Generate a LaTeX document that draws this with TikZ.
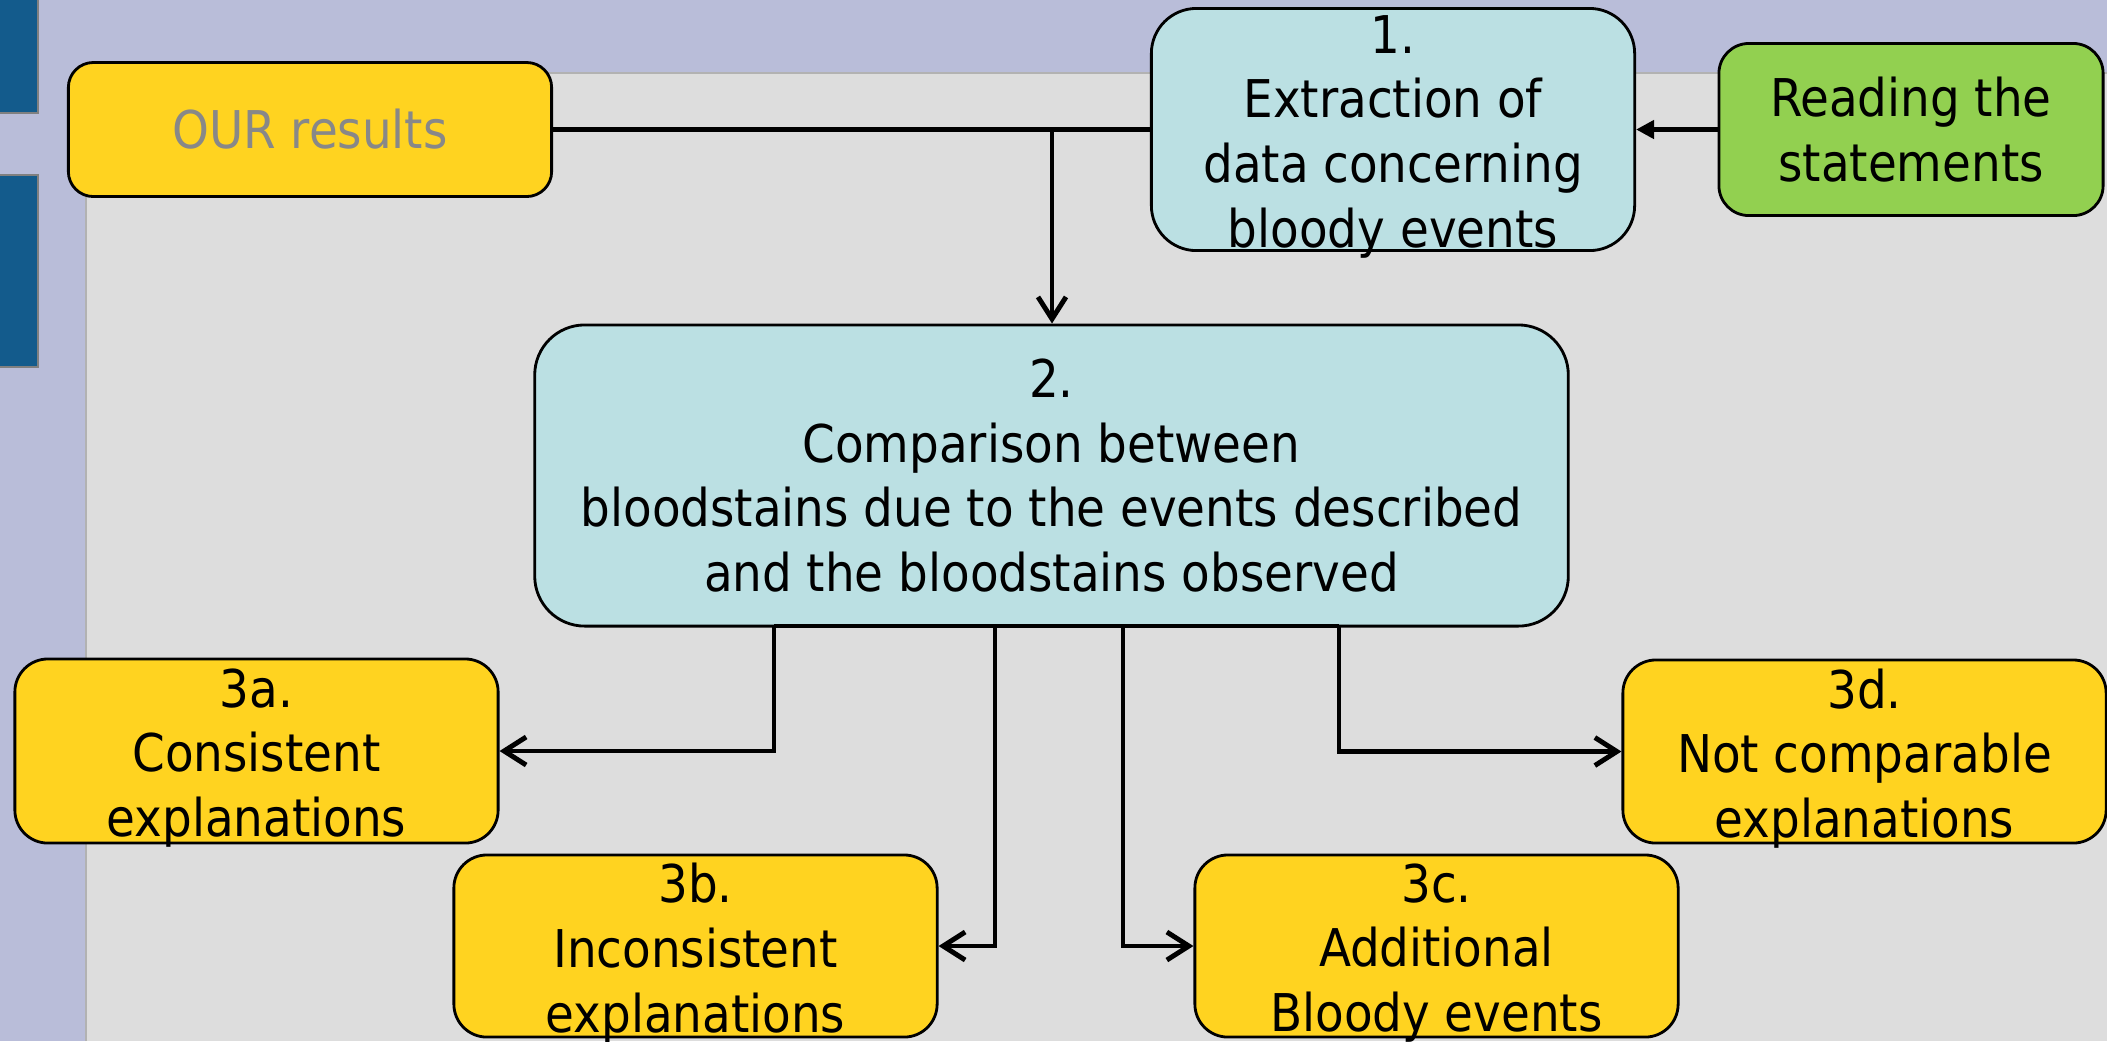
\documentclass[tikz,border=0pt]{standalone}
\usepackage{fontspec}
\setmainfont{DejaVu Sans Condensed}
\usepackage{xcolor}
\usetikzlibrary{arrows.meta}

\definecolor{slidebg}{HTML}{B9BDD9}
\definecolor{slidegray}{HTML}{DDDDDD}
\definecolor{barblue}{HTML}{135B8C}
\definecolor{boxyellow}{HTML}{FFD320}
\definecolor{boxcyan}{HTML}{BBE0E3}
\definecolor{boxgreen}{HTML}{92D050}
\definecolor{textgray}{HTML}{888888}

\tikzset{
  box/.style={draw=black, line width=0.8pt, inner sep=0pt, minimum width=4.83cm},
  txt/.style={align=center, inner sep=0pt, font=\fontsize{14.8}{18.4}\selectfont},
  txtlow/.style={txt, yshift=-2pt},
  conn/.style={line width=1.4pt},
  arr/.style={conn, -{Straight Barb[length=0.22cm,width=0.28cm,line width=1.4pt]}}
}

\begin{document}
\begin{tikzpicture}[x=0.01cm, y=-0.01cm]
  \useasboundingbox (0,0) rectangle (2107,1041);
  % slide background
  \fill[slidebg] (0,0) rectangle (2107,1041);
  \fill[slidegray] (86,73) rectangle (2107,1041);
  \draw[gray!60, line width=0.4pt] (86,1041) -- (86,73) -- (2107,73);
  \filldraw[barblue, draw=gray, line width=0.5pt] (-2,-2) rectangle (38,113);
  \filldraw[barblue, draw=gray, line width=0.5pt] (-2,175) rectangle (38,367);

  % boxes
  \node[box, fill=boxyellow, rounded corners=0.25cm, minimum height=1.34cm,
    label={[txt, text=textgray]center:OUR results}] (our) at (310,129.5) {};
  \node[box, fill=boxcyan, rounded corners=0.45cm, minimum height=2.42cm,
    label={[txtlow]center:1.\\Extraction of\\data concerning\\bloody events}] (extr) at (1393,129.5) {};
  \node[box, fill=boxgreen, rounded corners=0.3cm, minimum width=3.84cm, minimum height=1.72cm,
    label={[txt]center:Reading the\\statements}] (read) at (1911,129.5) {};
  \node[box, fill=boxcyan, rounded corners=0.5cm, minimum width=10.33cm, minimum height=3.01cm,
    label={[txt]center:2.\\Comparison between\\bloodstains due to the events described\\and the bloodstains observed}] (cmp) at (1051.5,475.5) {};
  \node[box, fill=boxyellow, rounded corners=0.33cm, minimum height=1.84cm,
    label={[txtlow]center:3a.\\Consistent\\explanations}] (a3) at (256.5,751) {};
  \node[box, fill=boxyellow, rounded corners=0.33cm, minimum height=1.82cm,
    label={[txtlow]center:3b.\\Inconsistent\\explanations}] (b3) at (695.5,946) {};
  \node[box, fill=boxyellow, rounded corners=0.33cm, minimum height=1.82cm,
    label={[txtlow]center:3c.\\Additional\\Bloody events}] (c3) at (1436.5,946) {};
  \node[box, fill=boxyellow, rounded corners=0.33cm, minimum height=1.83cm,
    label={[txtlow]center:3d.\\Not comparable\\explanations}] (d3) at (1864.5,751.5) {};

  % connectors at the top
  \coordinate (j1) at (1052,129.5);
  \draw[conn] (our.east) -- (extr.west);
  \draw[arr] (j1) -- (cmp.north -| j1);
  \draw[conn, -{Triangle[length=0.18cm,width=0.18cm]}] (read.west) -- (extr.east);

  % connectors below step 2
  \coordinate (sa) at (774,626);
  \coordinate (sb) at (995,626);
  \coordinate (sc) at (1123,626);
  \coordinate (sd) at (1339,626);
  \draw[conn] (sa) -- (sd);
  \foreach \s/\t in {sa/a3.east, sb/b3.east, sc/c3.west, sd/d3.west}
    \draw[arr] (\s) |- (\t);
\end{tikzpicture}
\end{document}
